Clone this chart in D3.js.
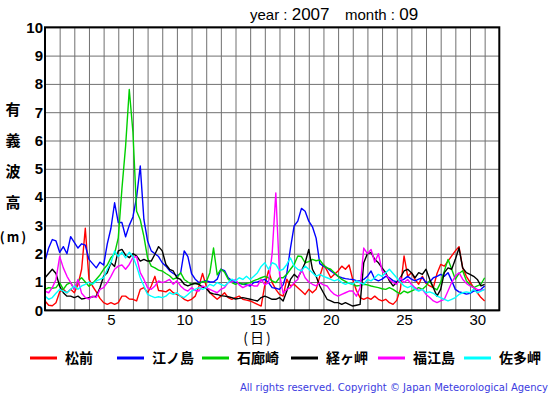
<!DOCTYPE html>
<html>
<head>
<meta charset="utf-8">
<script src="https://cdn.jsdelivr.net/npm/d3@7"></script>
<style>
  body { margin: 0; background: #fff; }
  svg { display: block; font-family: "Liberation Sans", Arial, sans-serif; }
  .jp { font-family: "Noto Sans CJK JP", sans-serif; }
</style>
</head>
<body>
<div class="visHolder"></div>
<script>
// Station names (legend order) and line colours
var stations = ['松前', '江ノ島', '石廊崎', '経ヶ岬', '福江島', '佐多岬'];
var colors = ['#ff0000', '#0000ff', '#00d000', '#000000', '#ff00ff', '#00ffff'];

// Time of each reading, in days from the start of September (every 6 hours)
var times = d3.range(0, 30.01, 0.25);

// Significant wave height (m), every 6 hours
var matsumae = [
  0.33, 0.18, 0.16, 0.27, 0.65, 0.74, 0.62, 0.74, 0.62, 0.9, 1.45, 2.9,
  1.1, 0.85, 0.65, 0.42, 0.27, 0.21, 0.27, 0.21, 0.27, 0.5, 0.5, 0.4,
  0.39, 0.33, 0.74, 0.8, 0.62, 0.86, 1.2, 0.7, 0.68, 0.65, 0.74, 0.62,
  0.56, 0.5, 0.39, 0.33, 0.39, 0.5, 0.85, 1.3, 0.86, 0.62, 0.5, 0.39,
  0.5, 0.62, 0.45, 0.39, 0.45, 0.5, 0.39, 0.36, 0.33, 0.27, 0.21, 0.15,
  0.9, 1.4, 0.98, 0.74, 0.56, 0.5, 1.1, 0.86, 0.92, 0.8, 0.68, 0.56,
  0.74, 0.62, 0.74, 1.2, 1.62, 1.4, 1.15, 1.27, 1.39, 1.56, 1.45, 1.6,
  1.09, 0.7, 0.45, 0.39, 0.45, 0.39, 0.5, 0.39, 0.33, 0.39, 0.27, 0.21,
  0.35, 0.74, 1.92, 1.2, 1.33, 1.09, 0.92, 1.2, 0.95, 0.86, 0.8, 1.3,
  1.62, 1.56, 1.74, 1.92, 2.1, 2.25, 1.5, 1.2, 1.0, 0.8, 0.62, 0.45,
  0.33
];
var enoshima = [
  1.74, 2.2, 2.5, 2.45, 2.05, 2.25, 2.0, 2.6, 2.4, 2.2, 2.35, 2.3,
  1.8, 1.65, 1.5, 1.7, 1.6, 2.35, 2.9, 3.8, 3.1, 3.1, 2.6, 3.0,
  3.3, 4.0, 5.1, 3.2, 2.45, 2.1, 2.0, 1.9, 1.68, 1.56, 1.4, 1.3,
  1.22, 1.3, 2.1, 1.9, 1.3, 1.1, 0.98, 1.0, 1.05, 1.0, 1.0, 1.1,
  1.45, 1.4, 1.15, 1.05, 0.98, 0.95, 0.92, 0.9, 0.86, 0.98, 1.0, 1.05,
  1.09, 0.98, 0.8, 0.78, 0.74, 0.9, 1.3, 2.2, 2.98, 3.15, 3.6, 3.5,
  3.15, 2.95, 2.55, 1.65, 1.56, 1.5, 1.39, 1.3, 1.2, 1.15, 1.12, 1.1,
  1.09, 1.05, 1.04, 1.09, 1.2, 1.39, 1.1, 1.04, 1.1, 1.2, 1.15, 1.05,
  1.0, 1.05, 1.1, 1.2, 1.1, 1.04, 1.1, 1.15, 0.98, 1.0, 1.15, 1.2,
  1.27, 1.2, 1.33, 1.05, 0.74, 0.65, 0.62, 0.57, 0.6, 0.68, 0.7, 0.74,
  0.86
];
var irozaki = [
  0.74, 0.8, 0.78, 0.8, 0.98, 0.74, 0.92, 0.98, 0.74, 1.04, 1.15, 1.0,
  0.85, 0.95, 1.1, 1.25, 1.45, 1.6, 1.86, 2.0, 2.56, 4.3, 5.8, 7.8,
  6.3, 3.5, 3.2, 2.6, 1.85, 1.56, 1.5, 1.42, 1.39, 1.3, 1.22, 1.1,
  1.15, 1.33, 1.09, 1.0, 0.92, 0.95, 0.92, 1.02, 1.0, 1.33, 2.2, 1.25,
  1.45, 1.35, 1.1, 0.98, 0.92, 0.98, 0.92, 0.95, 0.98, 1.05, 1.09, 1.15,
  1.2, 1.15, 1.04, 0.98, 1.15, 1.15, 1.27, 1.45, 1.62, 1.92, 1.9, 1.68,
  1.72, 1.8, 1.75, 1.78, 1.6, 1.5, 1.45, 1.33, 1.2, 1.09, 1.02, 0.95,
  0.92, 0.86, 0.88, 0.92, 0.9, 0.86, 0.83, 0.8, 0.76, 0.74, 0.8, 0.74,
  0.65, 0.58, 0.68, 0.62, 0.68, 0.74, 0.8, 0.74, 0.86, 1.05, 0.8, 0.72,
  0.98, 1.39, 1.8, 1.45, 1.1, 1.3, 1.4, 1.05, 0.9, 0.8, 0.86, 0.92,
  1.15
];
var kyogamisaki = [
  1.15, 1.3, 1.45, 1.3, 0.85, 0.62, 0.5, 0.5, 0.45, 0.5, 0.4, 0.42,
  0.45, 0.48, 0.5, 0.8, 1.2, 1.33, 1.68, 1.55, 2.1, 2.15, 1.95, 1.86,
  2.0, 1.92, 1.74, 1.8, 1.74, 1.74, 1.98, 2.25, 2.1, 1.62, 1.45, 1.39,
  1.15, 1.09, 0.92, 0.86, 0.92, 0.95, 0.92, 0.82, 0.78, 0.62, 0.58, 0.56,
  0.52, 0.5, 0.48, 0.45, 0.4, 0.42, 0.45, 0.42, 0.39, 0.36, 0.33, 0.45,
  0.5, 0.45, 0.39, 0.39, 0.45, 0.33, 0.68, 1.09, 1.27, 1.15, 1.39, 1.68,
  2.15, 1.45, 1.2, 0.86, 0.62, 0.39, 0.33, 0.27, 0.27, 0.21, 0.27, 0.21,
  0.15, 0.18, 0.21, 1.68, 2.0, 2.04, 1.8, 1.68, 1.5, 1.33, 1.04, 0.86,
  0.98, 1.15, 1.39, 1.45, 1.33, 1.15, 1.33, 1.27, 1.45, 1.1, 0.8, 0.5,
  0.74, 1.33, 1.5, 1.45, 1.8, 2.2, 1.5, 1.33, 1.27, 1.2, 1.09, 0.86,
  0.92
];
var fukuejima = [
  0.68, 0.62, 0.8, 1.09, 1.9, 1.5, 1.2, 0.98, 0.74, 1.09, 0.6, 0.45,
  0.4, 0.5, 0.45, 0.74, 0.8, 0.98, 1.2, 1.45, 1.56, 1.6, 1.45, 1.62,
  1.86, 1.9, 1.33, 1.09, 0.8, 0.74, 0.86, 1.04, 0.98, 1.02, 1.09, 0.92,
  1.04, 0.86, 0.74, 0.68, 0.8, 0.7, 0.68, 0.86, 0.8, 0.74, 0.68, 0.62,
  0.74, 0.8, 0.98, 1.0, 1.09, 0.9, 0.8, 0.86, 0.92, 0.86, 0.86, 1.09,
  0.9, 0.98, 2.0, 4.15, 1.3, 0.6, 0.74, 0.8, 0.98, 1.09, 1.45, 1.15,
  1.0, 0.92, 0.86, 0.98, 0.9, 0.86, 0.68, 0.56, 0.5, 0.56, 0.62, 0.68,
  0.68, 0.5, 0.8, 2.2, 2.0, 2.15, 1.7, 2.0, 1.4, 1.27, 1.1, 0.98,
  0.92, 1.15, 0.98, 1.09, 0.92, 0.8, 0.7, 0.74, 0.56, 0.45, 0.33, 0.27,
  0.33, 0.39, 0.68, 0.98, 1.2, 1.33, 1.1, 0.95, 0.86, 0.8, 0.74, 0.7,
  0.74
];
var satamisaki = [
  0.5, 0.39, 0.45, 0.6, 0.74, 0.68, 0.62, 0.74, 0.86, 0.74, 0.86, 0.92,
  1.0, 0.92, 1.04, 1.09, 1.15, 1.45, 1.68, 2.1, 1.9, 2.05, 1.85, 2.05,
  1.9, 1.56, 1.15, 0.86, 0.56, 0.5, 0.45, 0.48, 0.45, 0.5, 0.62, 0.56,
  0.62, 0.5, 0.45, 0.56, 0.68, 0.74, 0.8, 0.74, 0.8, 0.92, 0.86, 0.98,
  0.92, 0.86, 0.98, 1.1, 1.04, 1.15, 1.09, 1.2, 1.09, 1.2, 1.33, 1.55,
  1.68, 1.45, 1.68, 1.62, 1.4, 1.45, 1.62, 1.85, 1.56, 1.45, 1.39, 1.56,
  1.45, 1.33, 1.2, 1.27, 1.2, 1.15, 1.09, 1.04, 1.09, 0.98, 0.92, 0.98,
  0.92, 1.04, 0.98, 0.92, 1.09, 1.04, 1.15, 1.27, 1.2, 1.33, 1.45, 1.3,
  1.15, 1.0, 0.86, 0.8, 0.86, 0.74, 0.68, 0.74, 0.62, 0.65, 0.6, 0.5,
  0.45, 0.39, 0.33, 0.39, 0.45, 0.56, 0.62, 0.65, 0.62, 0.74, 0.62, 0.68,
  0.74
];
var series = [matsumae, enoshima, irozaki, kyogamisaki, fukuejima, satamisaki];

// Day labels under the x axis
var dayLabels = [5, 10, 15, 20, 25, 30];

// Dimensions (plot box edges)
var width = 555, height = 395;
var plotL = 45, plotR = 499.3, plotT = 27.3, plotB = 310.3;

var svg = d3.select('.visHolder').append('svg')
  .attr('width', width)
  .attr('height', height);

// Scales: 31 day cells across, 0-10 m up
var xScale = d3.scaleLinear().domain([0, 31]).range([plotL, plotR]);
var yScale = d3.scaleLinear().domain([0, 10]).range([plotB, plotT]);

// Vertical grid, one line per day
svg.append('g')
  .attr('transform', 'translate(0,' + plotB + ')')
  .call(d3.axisBottom(xScale).tickValues(d3.range(1, 31)).tickSize(-(plotB - plotT)).tickFormat(''))
  .call(function (g) {
    g.select('.domain').remove();
    g.selectAll('line').attr('stroke', '#707070');
  });

// Horizontal grid and bold y labels
svg.append('g')
  .attr('transform', 'translate(' + plotL + ',0)')
  .call(d3.axisLeft(yScale).ticks(10).tickSize(-(plotR - plotL)).tickPadding(2))
  .call(function (g) {
    g.select('.domain').remove();
    g.selectAll('line').attr('stroke', '#707070');
    g.selectAll('text')
      .attr('fill', '#000')
      .style('font-size', '15px')
      .style('font-weight', 'bold')
      .style('font-family', '"Liberation Sans", Arial, sans-serif');
  });

// Day labels sit in the middle of the day cell
svg.append('g')
  .attr('transform', 'translate(0,' + plotB + ')')
  .call(d3.axisBottom(xScale).tickValues(dayLabels.map(function (d) { return d - 0.5; }))
    .tickSize(0).tickPadding(4).tickFormat(function (d) { return d + 0.5; }))
  .call(function (g) {
    g.select('.domain').remove();
    g.selectAll('text')
      .attr('fill', '#000')
      .style('font-size', '15px')
      .style('font-family', '"Liberation Sans", Arial, sans-serif');
  });

// Wave height lines
var line = d3.line()
  .x(function (d, i) { return xScale(times[i]); })
  .y(function (d) { return yScale(d); });

svg.append('g').selectAll('path')
  .data(series)
  .enter()
  .append('path')
  .attr('d', line)
  .attr('fill', 'none')
  .attr('stroke', function (d, i) { return colors[i]; })
  .attr('stroke-width', 1.4)
  .attr('stroke-linejoin', 'round');

// Plot border
svg.append('rect')
  .attr('x', plotL)
  .attr('y', plotT)
  .attr('width', plotR - plotL)
  .attr('height', plotB - plotT)
  .attr('fill', 'none')
  .attr('stroke', '#000')
  .attr('stroke-width', 2);

// Header: the numbers are a touch larger than the words
var head1 = svg.append('text').attr('x', 250).attr('y', 20).style('font-size', '15px');
head1.append('tspan').text('year : ');
head1.append('tspan').style('font-size', '17px').text('2007');
var head2 = svg.append('text').attr('x', 345).attr('y', 20).style('font-size', '15px');
head2.append('tspan').text('month : ');
head2.append('tspan').style('font-size', '17px').text('09');

// Vertical y title
var yTitle = ['有', '義', '波', '高'];
svg.append('g').selectAll('text')
  .data(yTitle)
  .enter()
  .append('text')
  .attr('class', 'jp')
  .attr('x', 13)
  .attr('y', function (d, i) { return 115 + i * 31; })
  .attr('text-anchor', 'middle')
  .style('font-size', '15px')
  .style('font-weight', 'bold')
  .text(function (d) { return d; });
svg.append('text')
  .attr('class', 'jp')
  .attr('x', 14).attr('y', 242)
  .attr('text-anchor', 'middle')
  .attr('letter-spacing', 2)
  .style('font-size', '13px')
  .style('font-weight', 'bold')
  .text('(m)');

// x title
svg.append('text')
  .attr('class', 'jp')
  .attr('x', 258).attr('y', 343)
  .attr('text-anchor', 'middle')
  .attr('letter-spacing', 2)
  .style('font-size', '14px')
  .text('(日)');

// Legend
var legendX = [30, 117, 202, 291, 378, 464];
var legend = svg.append('g').selectAll('g')
  .data(stations)
  .enter()
  .append('g')
  .attr('transform', function (d, i) { return 'translate(' + legendX[i] + ',358)'; });
legend.append('line')
  .attr('x1', 0).attr('x2', 27)
  .attr('stroke', function (d, i) { return colors[i]; })
  .attr('stroke-width', 3);
legend.append('text')
  .attr('class', 'jp')
  .attr('x', 35).attr('y', 5)
  .style('font-size', '14px')
  .style('font-weight', 'bold')
  .text(function (d) { return d; });

// Copyright
svg.append('text')
  .attr('x', 240).attr('y', 391)
  .attr('textLength', 308)
  .attr('lengthAdjust', 'spacing')
  .attr('fill', '#3b3be0')
  .style('font-size', '10px')
  .style('font-family', '"DejaVu Sans", sans-serif')
  .text('All rights reserved. Copyright © Japan Meteorological Agency');
</script>
</body>
</html>
